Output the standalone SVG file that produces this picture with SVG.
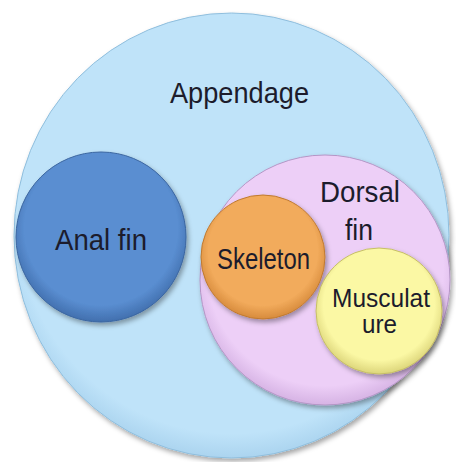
<svg xmlns="http://www.w3.org/2000/svg" width="456" height="462" viewBox="0 0 456 462">
<defs>
<filter id="sh" x="-10%" y="-10%" width="125%" height="125%">
<feDropShadow dx="2" dy="3" stdDeviation="2.5" flood-color="#000" flood-opacity="0.35"/>
</filter>
<radialGradient id="gBig" cx="50%" cy="45%" r="55%">
<stop offset="0.9" stop-color="#BFE3F9"/>
<stop offset="1" stop-color="#ABD4EF"/>
</radialGradient>
<radialGradient id="gAnal" cx="50%" cy="45%" r="55%">
<stop offset="0.82" stop-color="#5A8ED1"/>
<stop offset="1" stop-color="#416FAE"/>
</radialGradient>
<radialGradient id="gDorsal" cx="50%" cy="45%" r="55%">
<stop offset="0.86" stop-color="#EDCFF7"/>
<stop offset="1" stop-color="#D6B3E4"/>
</radialGradient>
<radialGradient id="gSkel" cx="50%" cy="45%" r="55%">
<stop offset="0.8" stop-color="#F2AB5C"/>
<stop offset="1" stop-color="#D78B3C"/>
</radialGradient>
<radialGradient id="gMusc" cx="50%" cy="45%" r="55%">
<stop offset="0.8" stop-color="#FBF8A4"/>
<stop offset="1" stop-color="#DCD57A"/>
</radialGradient>
</defs>
<style>
text{font-family:"Liberation Sans",Arial,sans-serif;font-size:30px;fill:#1C1C2C;text-anchor:middle}
.s{font-size:29px}
.m{font-size:25px}
</style>
<rect width="456" height="462" fill="#FFFFFF"/>
<g id="appendage">
<ellipse cx="231.5" cy="235.5" rx="217.5" ry="222.5" fill="url(#gBig)" stroke="#8FBEDD" stroke-width="1" filter="url(#sh)"/>
<text x="239.5" y="103" textLength="139" lengthAdjust="spacingAndGlyphs">Appendage</text>
</g>
<g id="anal-fin">
<circle cx="101" cy="237" r="85" fill="url(#gAnal)" stroke="#3A65A0" stroke-width="1" filter="url(#sh)"/>
<text x="101" y="250" textLength="92" lengthAdjust="spacingAndGlyphs">Anal fin</text>
</g>
<g id="dorsal-fin">
<circle cx="325" cy="280" r="125" fill="url(#gDorsal)" stroke="#B596C6" stroke-width="1" filter="url(#sh)"/>
<text x="360" y="202" textLength="80" lengthAdjust="spacingAndGlyphs">Dorsal</text>
<text x="359" y="240" textLength="28" lengthAdjust="spacingAndGlyphs">fin</text>
</g>
<g id="skeleton">
<circle cx="263" cy="257" r="62" fill="url(#gSkel)" stroke="#C07A30" stroke-width="1" filter="url(#sh)"/>
<text class="s" x="263.5" y="269" textLength="93" lengthAdjust="spacingAndGlyphs">Skeleton</text>
</g>
<g id="musculature">
<circle cx="379" cy="311" r="63" fill="url(#gMusc)" stroke="#C6BF66" stroke-width="1" filter="url(#sh)"/>
<text class="m" x="381" y="307" textLength="98" lengthAdjust="spacingAndGlyphs">Musculat</text>
<text class="m" x="379.5" y="333" textLength="35" lengthAdjust="spacingAndGlyphs">ure</text>
</g>
<g id="connectors"></g>
</svg>
